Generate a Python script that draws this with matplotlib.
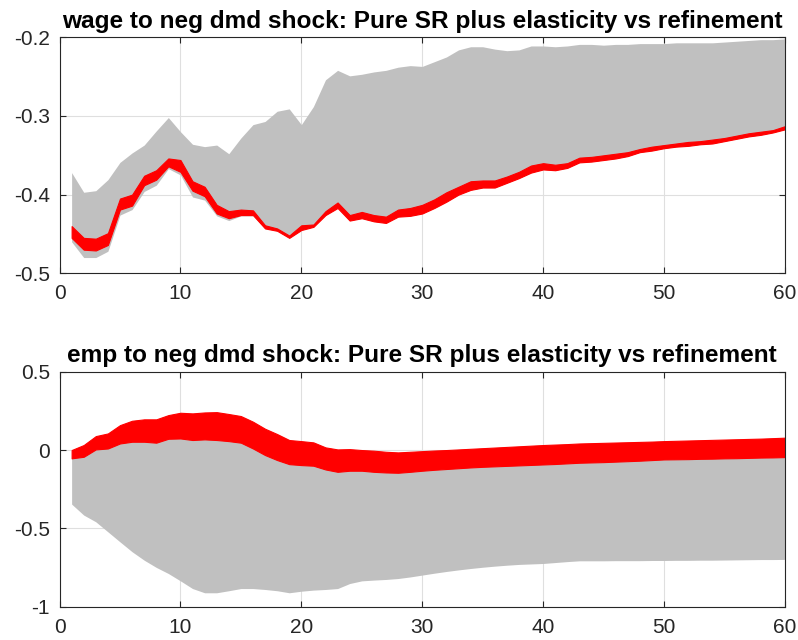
import numpy as np
import matplotlib.pyplot as plt

# horizon
h = np.arange(1, 61)

# wage response: gray band (pure SR plus elasticity) and red band (refinement)
wage_gray_hi = [-0.372, -0.397, -0.395, -0.381, -0.359, -0.347, -0.337, -0.319, -0.302, -0.320,
                -0.336, -0.339, -0.337, -0.348, -0.328, -0.311, -0.307, -0.294, -0.291, -0.311,
                -0.288, -0.254, -0.242, -0.249, -0.247, -0.244, -0.242, -0.238, -0.236, -0.237,
                -0.231, -0.225, -0.216, -0.212, -0.212, -0.215, -0.217, -0.216, -0.211, -0.211,
                -0.212, -0.211, -0.209, -0.209, -0.210, -0.209, -0.209, -0.208, -0.208, -0.208,
                -0.207, -0.207, -0.207, -0.207, -0.206, -0.205, -0.204, -0.203, -0.203, -0.202]
wage_gray_lo = [-0.460, -0.480, -0.480, -0.472, -0.426, -0.419, -0.396, -0.388, -0.367, -0.375,
                -0.403, -0.407, -0.427, -0.433, -0.427, -0.427, -0.443, -0.446, -0.455, -0.445,
                -0.441, -0.426, -0.417, -0.433, -0.430, -0.434, -0.436, -0.428, -0.427, -0.424,
                -0.417, -0.409, -0.400, -0.394, -0.391, -0.391, -0.385, -0.379, -0.372, -0.368,
                -0.369, -0.366, -0.359, -0.358, -0.356, -0.354, -0.351, -0.346, -0.344, -0.341,
                -0.339, -0.338, -0.336, -0.335, -0.332, -0.329, -0.326, -0.324, -0.321, -0.317]
wage_red_hi = [-0.440, -0.455, -0.456, -0.449, -0.405, -0.400, -0.376, -0.369, -0.354, -0.356,
               -0.383, -0.390, -0.413, -0.421, -0.419, -0.420, -0.439, -0.443, -0.452, -0.439,
               -0.438, -0.421, -0.410, -0.426, -0.422, -0.426, -0.428, -0.419, -0.417, -0.413,
               -0.406, -0.397, -0.390, -0.383, -0.382, -0.382, -0.377, -0.371, -0.363, -0.360,
               -0.362, -0.360, -0.353, -0.352, -0.350, -0.348, -0.346, -0.342, -0.339, -0.337,
               -0.335, -0.333, -0.332, -0.330, -0.328, -0.325, -0.322, -0.320, -0.318, -0.313]
wage_red_lo = [-0.455, -0.470, -0.471, -0.464, -0.419, -0.414, -0.388, -0.381, -0.364, -0.371,
               -0.395, -0.402, -0.424, -0.430, -0.426, -0.426, -0.443, -0.446, -0.455, -0.445,
               -0.441, -0.426, -0.417, -0.433, -0.430, -0.434, -0.436, -0.428, -0.427, -0.424,
               -0.417, -0.409, -0.400, -0.394, -0.391, -0.391, -0.385, -0.379, -0.372, -0.368,
               -0.369, -0.366, -0.359, -0.358, -0.356, -0.354, -0.351, -0.346, -0.344, -0.341,
               -0.339, -0.338, -0.336, -0.335, -0.332, -0.329, -0.326, -0.324, -0.321, -0.317]

# employment response
emp_gray_hi = [-0.043, -0.033, 0.014, 0.020, 0.052, 0.063, 0.063, 0.057, 0.082, 0.084,
               0.074, 0.078, 0.074, 0.067, 0.057, 0.020, -0.022, -0.054, -0.080, -0.086,
               -0.090, -0.114, -0.129, -0.122, -0.122, -0.129, -0.133, -0.135, -0.129, -0.122,
               -0.116, -0.111, -0.106, -0.101, -0.097, -0.094, -0.091, -0.088, -0.085, -0.082,
               -0.079, -0.075, -0.071, -0.069, -0.067, -0.064, -0.061, -0.058, -0.054, -0.050,
               -0.049, -0.048, -0.046, -0.045, -0.043, -0.042, -0.040, -0.038, -0.037, -0.035]
emp_gray_lo = [-0.345, -0.415, -0.458, -0.522, -0.586, -0.649, -0.703, -0.749, -0.788, -0.835,
               -0.884, -0.911, -0.911, -0.898, -0.884, -0.884, -0.890, -0.898, -0.911, -0.901,
               -0.894, -0.890, -0.884, -0.852, -0.835, -0.830, -0.826, -0.820, -0.810, -0.798,
               -0.786, -0.775, -0.765, -0.756, -0.748, -0.741, -0.735, -0.730, -0.727, -0.724,
               -0.718, -0.712, -0.707, -0.707, -0.707, -0.706, -0.706, -0.706, -0.705, -0.705,
               -0.704, -0.704, -0.703, -0.703, -0.702, -0.701, -0.700, -0.699, -0.699, -0.698]
emp_red_hi = [0.000, 0.032, 0.089, 0.106, 0.159, 0.187, 0.196, 0.196, 0.223, 0.238,
              0.234, 0.240, 0.242, 0.230, 0.217, 0.181, 0.136, 0.102, 0.064, 0.057,
              0.049, 0.017, 0.004, 0.006, 0.000, -0.004, -0.011, -0.015, -0.011, -0.007,
              -0.003, 0.000, 0.004, 0.008, 0.012, 0.016, 0.020, 0.024, 0.028, 0.032,
              0.035, 0.038, 0.042, 0.044, 0.046, 0.048, 0.050, 0.052, 0.054, 0.057,
              0.059, 0.061, 0.063, 0.065, 0.067, 0.069, 0.071, 0.073, 0.076, 0.079]
emp_red_lo = [-0.053, -0.043, 0.004, 0.010, 0.042, 0.053, 0.053, 0.047, 0.072, 0.074,
              0.064, 0.068, 0.064, 0.057, 0.047, 0.010, -0.032, -0.064, -0.090, -0.096,
              -0.100, -0.124, -0.139, -0.132, -0.132, -0.139, -0.143, -0.145, -0.139, -0.132,
              -0.126, -0.121, -0.116, -0.111, -0.107, -0.104, -0.101, -0.098, -0.095, -0.092,
              -0.089, -0.085, -0.081, -0.079, -0.077, -0.074, -0.071, -0.068, -0.064, -0.060,
              -0.059, -0.058, -0.056, -0.055, -0.053, -0.052, -0.050, -0.048, -0.047, -0.045]

plt.rcParams['font.family'] = ['Liberation Sans', 'DejaVu Sans']

fig = plt.figure(figsize=(7.98, 6.4), dpi=100)
ax1 = fig.add_axes([0.0746, 0.573, 0.909, 0.3687])
ax2 = fig.add_axes([0.0746, 0.052, 0.909, 0.3672])

panels = [
    (ax1, wage_gray_lo, wage_gray_hi, wage_red_lo, wage_red_hi,
     'wage to neg dmd shock: Pure SR plus elasticity vs refinement',
     (-0.5, -0.2), [-0.5, -0.4, -0.3, -0.2], ['-0.5', '-0.4', '-0.3', '-0.2']),
    (ax2, emp_gray_lo, emp_gray_hi, emp_red_lo, emp_red_hi,
     'emp to neg dmd shock: Pure SR plus elasticity vs refinement',
     (-1, 0.5), [-1, -0.5, 0, 0.5], ['-1', '-0.5', '0', '0.5']),
]

for ax, glo, ghi, rlo, rhi, title, ylim, yt, ytl in panels:
    ax.fill_between(h, glo, ghi, color='#c0c0c0', linewidth=0, zorder=2)
    ax.fill_between(h, rlo, rhi, color='#ff0000', linewidth=0.8, edgecolor='#ff0000', zorder=3)
    ax.set_xlim(0, 60)
    ax.set_ylim(*ylim)
    ax.set_xticks([0, 10, 20, 30, 40, 50, 60])
    ax.set_yticks(yt)
    ax.set_yticklabels(ytl)
    ax.grid(True, color='#dfdfdf', linewidth=0.8, zorder=0)
    ax.set_axisbelow(True)
    ax.tick_params(direction='in', length=4, width=0.8, colors='#262626',
                   labelsize=15, top=True, right=True)
    ax.tick_params(axis='x', pad=8)
    ax.tick_params(axis='y', pad=7)
    for sp in ax.spines.values():
        sp.set_color('#262626')
        sp.set_linewidth(0.8)
        sp.set_zorder(5)
    ax.set_title(title, fontsize=17.6, fontweight='bold', pad=7)

fig.savefig('out.png', dpi=100)
